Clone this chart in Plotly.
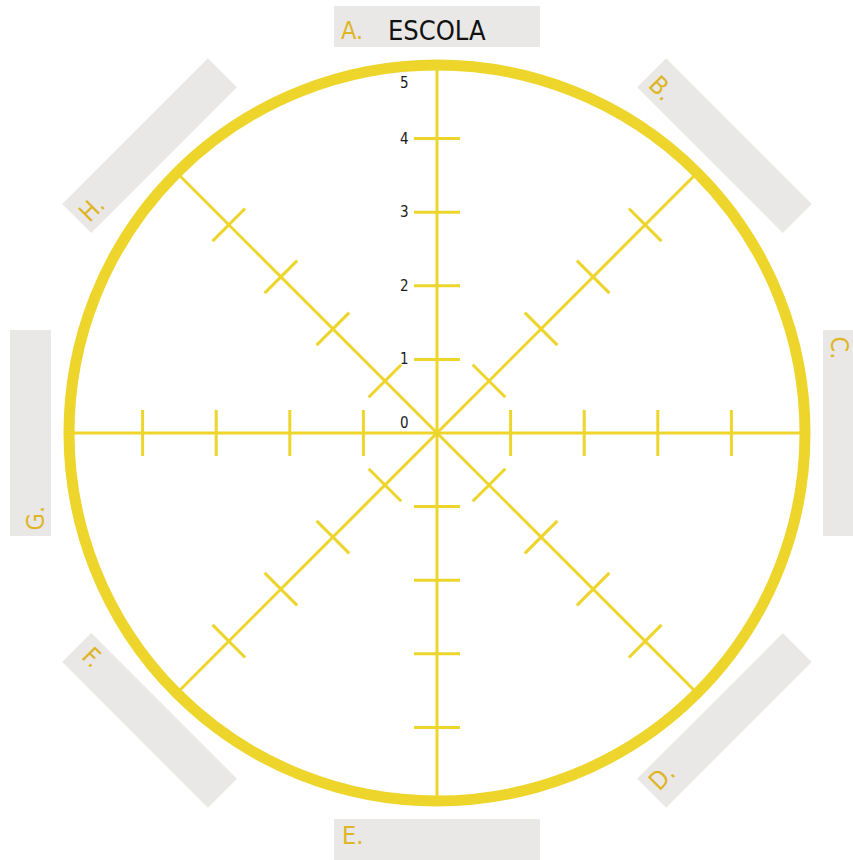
import numpy as np
import plotly.graph_objects as go

# ---------------- data ----------------
categories = ["A.", "B.", "C.", "D.", "E.", "F.", "G.", "H."]
category_titles = ["ESCOLA", "", "", "", "", "", "", ""]
label_rotations = [0, 45, 90, -45, 0, 45, -90, -45]
tick_values = [1, 2, 3, 4]
tick_labels = ["0", "1", "2", "3", "4", "5"]
max_value = 5

# ---------------- style ----------------
PX = 73.6                      # pixels per unit
W, H = 853, 860
CX, CY = 437, 433              # centre in pixels
YELLOW = "#EDD52B"
GOLD = "#DDB526"
BOX = "#EAE8E6"
FONT = "DejaVu Sans Condensed, Liberation Sans Narrow, sans-serif"

box_dist = 406.5 / PX
box_len = 206 / PX
box_thk = 41 / PX
tick_half = 23 / PX
label_in = (103 - 18) / PX
label_radial_shift = -4 / PX

fig = go.Figure()

n = len(categories)
angles = [np.deg2rad(90 - 360 / n * i) for i in range(n)]

# spokes
for a in angles:
    fig.add_trace(go.Scatter(
        x=[0, max_value * np.cos(a)], y=[0, max_value * np.sin(a)],
        mode="lines", line=dict(color=YELLOW, width=3),
        hoverinfo="skip", showlegend=False))
    # ticks perpendicular to spoke
    px_, py_ = -np.sin(a), np.cos(a)
    xs, ys = [], []
    for v in tick_values:
        bx, by = v * np.cos(a), v * np.sin(a)
        xs += [bx - tick_half * px_, bx + tick_half * px_, None]
        ys += [by - tick_half * py_, by + tick_half * py_, None]
    fig.add_trace(go.Scatter(
        x=xs, y=ys, mode="lines", line=dict(color=YELLOW, width=3),
        hoverinfo="skip", showlegend=False))

shapes = []
annotations = []

# label boxes
for i, a in enumerate(angles):
    cx, cy = box_dist * np.cos(a), box_dist * np.sin(a)
    ux, uy = -np.sin(a), np.cos(a)          # tangent
    nx, ny = np.cos(a), np.sin(a)           # radial
    corners = []
    for s1, s2 in [(-1, -1), (1, -1), (1, 1), (-1, 1)]:
        corners.append((cx + s1 * ux * box_len / 2 + s2 * nx * box_thk / 2,
                        cy + s1 * uy * box_len / 2 + s2 * ny * box_thk / 2))
    path = "M " + " L ".join(f"{x:.4f},{y:.4f}" for x, y in corners) + " Z"
    shapes.append(dict(type="path", path=path, xref="x", yref="y",
                       fillcolor=BOX, line=dict(width=0), layer="below"))
    th = np.deg2rad(label_rotations[i])
    rdx, rdy = np.cos(th), -np.sin(th)       # reading direction (data coords)
    tx, ty = cx + nx * label_radial_shift, cy + ny * label_radial_shift
    annotations.append(dict(x=tx - rdx * label_in, y=ty - rdy * label_in,
                            xref="x", yref="y", text=categories[i],
                            showarrow=False, textangle=label_rotations[i],
                            font=dict(family=FONT, size=25, color=GOLD),
                            xanchor="center", yanchor="middle", borderpad=0))
    if category_titles[i]:
        annotations.append(dict(x=tx, y=ty, xref="x", yref="y", text=category_titles[i],
                                showarrow=False, textangle=label_rotations[i],
                                font=dict(family=FONT, size=27, color="#111111"),
                                xanchor="center", yanchor="middle", borderpad=0))

# outer circle
shapes.append(dict(type="circle", xref="x", yref="y",
                   x0=-max_value, x1=max_value, y0=-max_value, y1=max_value,
                   line=dict(color=YELLOW, width=11), layer="above"))

# value labels on vertical axis
for k, t in enumerate(tick_labels):
    yshift = 0
    if k == 0:
        yshift = 10
    elif k == len(tick_labels) - 1:
        yshift = -18
    annotations.append(dict(x=-26 / PX, y=k, xref="x", yref="y", text=t,
                            showarrow=False, xanchor="right", yanchor="middle",
                            yshift=yshift,
                            font=dict(family=FONT, size=15, color="#1a1a1a")))

fig.update_layout(
    width=W, height=H,
    margin=dict(l=0, r=0, t=0, b=0),
    paper_bgcolor="white", plot_bgcolor="white",
    xaxis=dict(range=[-CX / PX, (W - CX) / PX], visible=False, fixedrange=True),
    yaxis=dict(range=[-(H - CY) / PX, CY / PX], visible=False, fixedrange=True),
    shapes=shapes, annotations=annotations, showlegend=False,
    hovermode=False,
)

fig.write_html("out.html",
               config={"displayModeBar": False, "staticPlot": True},
               post_script="document.body.style.margin='0';document.body.style.overflow='hidden';")
